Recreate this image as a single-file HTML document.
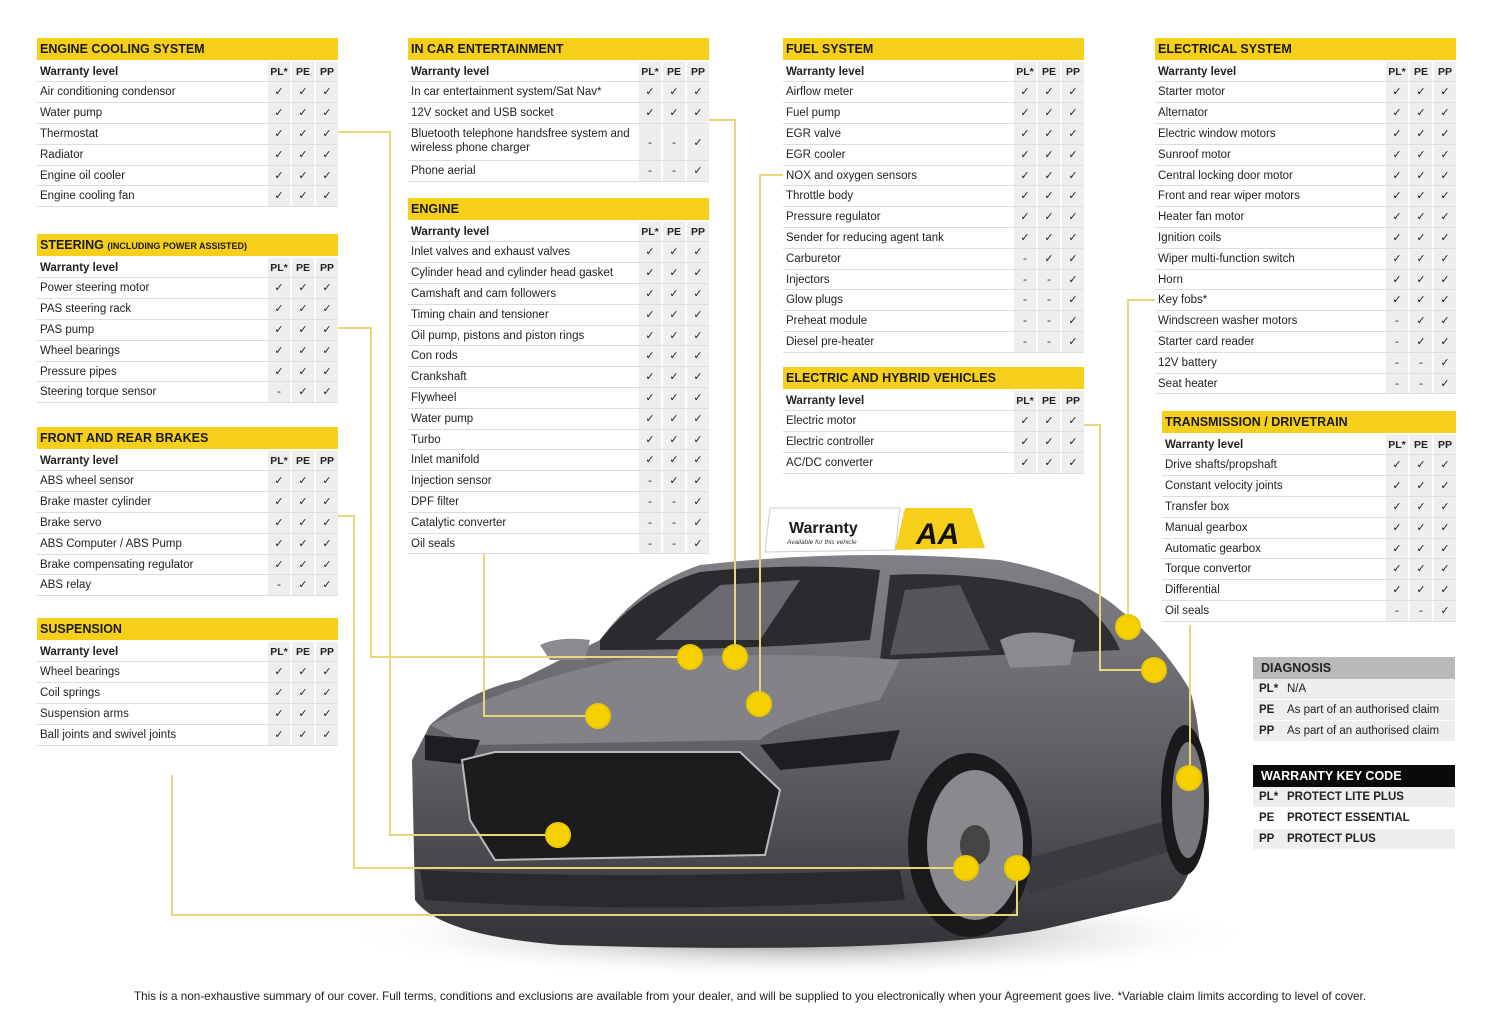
<!DOCTYPE html>
<html><head><meta charset="utf-8">
<style>
*{box-sizing:border-box;margin:0;padding:0}
body{width:1500px;height:1020px;background:#fff;position:relative;overflow:hidden;font-family:"Liberation Sans","DejaVu Sans",sans-serif;color:#222}
.t{position:absolute;width:301px;font-size:11.5px;background:#fff}
.h{background:#f6cf1a;height:22px;font-weight:bold;font-size:12.5px;padding-left:3px;line-height:23px;margin-bottom:1.6px;color:#1a1a1a}
.h small{font-size:9px}
.r{display:flex;height:20.8px;line-height:20px;border-bottom:1px solid #ddd}
.r span{flex:1;padding-left:3px;white-space:nowrap}
.r i{width:22px;margin-left:2px;background:#eee;text-align:center;font-style:normal;font-family:"DejaVu Sans",sans-serif;font-size:11px}
.r.w{font-weight:bold}
.r.w i{font-family:"Liberation Sans",sans-serif;font-size:10.5px}
.r.tall{height:37px;line-height:14px}
.r.tall span{white-space:normal;padding-top:3px}
.r.tall i{line-height:37px}
.k{position:absolute;left:1253px;width:202px;font-size:11.5px}
.k .kh{height:22px;line-height:23px;font-weight:bold;font-size:12.5px;padding-left:8px}
.k .kr{height:21px;line-height:21px;background:#eee;margin-top:0;border-bottom:1px solid #fff;display:flex}
.k .kr b{width:34px;padding-left:6px}
svg{position:absolute;left:0;top:0}
.foot{position:absolute;top:990px;left:0;width:1500px;text-align:center;font-size:11.7px;color:#222}
</style></head><body>

<svg width="1500" height="1020">
<defs>
<radialGradient id="sh" cx="50%" cy="50%" r="50%"><stop offset="0" stop-color="#777"/><stop offset="1" stop-color="#fff" stop-opacity="0"/></radialGradient>
<linearGradient id="bd" x1="0" y1="0" x2="0" y2="1"><stop offset="0" stop-color="#808086"/><stop offset="0.5" stop-color="#606066"/><stop offset="1" stop-color="#343438"/></linearGradient>
</defs>
<ellipse cx="800" cy="935" rx="460" ry="45" fill="url(#sh)"/>
<path d="M412,760 L430,725 Q470,690 520,680 L600,640 Q640,585 700,565 Q850,548 1000,560 Q1080,575 1120,610 Q1160,640 1190,690 Q1205,740 1200,820 Q1195,880 1170,900 L1040,930 Q900,955 560,945 Q440,935 415,900 Z" fill="url(#bd)"/>
<path d="M600,640 Q640,590 700,572 Q800,562 880,570 L870,640 Q750,650 600,650 Z" fill="#2a2a2f"/>
<path d="M655,640 L720,585 L800,580 L760,640 Z" fill="#6a6a70"/>
<path d="M890,575 Q1000,570 1080,600 Q1110,625 1120,650 L1000,655 L880,660 Z" fill="#2e2e33"/>
<path d="M905,590 L960,585 L990,650 L890,655 Z" fill="#55555b"/>
<path d="M430,725 Q520,680 620,660 Q780,650 900,660 L880,700 Q780,720 760,740 L470,745 Z" fill="#828288"/>
<path d="M760,745 L900,730 L890,760 L780,770 Z" fill="#1e1e22"/>
<path d="M425,735 L480,740 L470,765 L425,760 Z" fill="#1e1e22"/>
<path d="M462,760 L495,752 L740,752 L780,790 L765,855 L495,860 L470,820 Z" fill="#1c1c1f" stroke="#bbb" stroke-width="2"/>
<path d="M420,870 Q600,880 900,870 L905,900 Q650,915 425,900 Z" fill="#2a2a2e"/>
<path d="M1020,860 L1170,820 L1175,850 L1030,895 Z" fill="#3c3c40"/>
<path d="M1000,640 Q1030,625 1075,640 L1070,665 L1010,668 Z" fill="#8a8a90"/>
<path d="M540,645 Q560,636 590,640 L585,660 L550,660 Z" fill="#8a8a90"/>
<ellipse cx="970" cy="845" rx="62" ry="92" fill="#1a1a1c"/>
<ellipse cx="975" cy="845" rx="48" ry="75" fill="#8a8a8e"/>
<ellipse cx="975" cy="845" rx="15" ry="20" fill="#444"/>
<ellipse cx="1185" cy="800" rx="24" ry="75" fill="#1a1a1c"/>
<ellipse cx="1188" cy="800" rx="16" ry="58" fill="#77777b"/>
<path d="M770,508 L900,508 L895,550 L765,552 Z" fill="#fff" stroke="#ccc"/>
<path d="M905,508 L972,508 L985,548 L895,550 Z" fill="#f6cf1a"/>
<text x="789" y="533" font-family="Liberation Sans" font-weight="bold" font-size="16" fill="#1a1a1a">Warranty</text>
<text x="787" y="544" font-family="Liberation Sans" font-style="italic" font-size="6.5" fill="#333">Available for this vehicle</text>
<text x="916" y="544" font-family="Liberation Sans" font-weight="bold" font-style="italic" font-size="30" fill="#111">AA</text>
<g fill="none" stroke="#e8d77a" stroke-width="2">
<path d="M338,132 H390 V835 H558"/>
<path d="M338,328 H371 V657 H690"/>
<path d="M338,516 H354 V868 H966"/>
<path d="M172,775 V915 H1017 V868"/>
<path d="M484,553 V716 H598"/>
<path d="M709,120 H735 V657"/>
<path d="M783,175 H760 V704"/>
<path d="M1084,425 H1100 V670 H1154"/>
<path d="M1155,300 H1128 V627"/>
<path d="M1190,625 V778"/>
</g>
<g fill="#f6d000" stroke="#e8c800" stroke-width="2">
<circle cx="690" cy="657" r="12"/><circle cx="735" cy="657" r="12"/><circle cx="598" cy="716" r="12"/><circle cx="759" cy="704" r="12"/><circle cx="558" cy="835" r="12"/><circle cx="966" cy="868" r="12"/><circle cx="1017" cy="868" r="12"/><circle cx="1128" cy="627" r="12"/><circle cx="1154" cy="670" r="12"/><circle cx="1189" cy="778" r="12"/>
</g>
</svg>

<div class="t" style="left:37px;top:38px">
<div class="h">ENGINE COOLING SYSTEM</div>
<div class="r w"><span>Warranty level</span><i>PL*</i><i>PE</i><i>PP</i></div>
<div class="r"><span>Air conditioning condensor</span><i>✓</i><i>✓</i><i>✓</i></div>
<div class="r"><span>Water pump</span><i>✓</i><i>✓</i><i>✓</i></div>
<div class="r"><span>Thermostat</span><i>✓</i><i>✓</i><i>✓</i></div>
<div class="r"><span>Radiator</span><i>✓</i><i>✓</i><i>✓</i></div>
<div class="r"><span>Engine oil cooler</span><i>✓</i><i>✓</i><i>✓</i></div>
<div class="r"><span>Engine cooling fan</span><i>✓</i><i>✓</i><i>✓</i></div>
</div>

<div class="t" style="left:37px;top:234px">
<div class="h">STEERING <small>(INCLUDING POWER ASSISTED)</small></div>
<div class="r w"><span>Warranty level</span><i>PL*</i><i>PE</i><i>PP</i></div>
<div class="r"><span>Power steering motor</span><i>✓</i><i>✓</i><i>✓</i></div>
<div class="r"><span>PAS steering rack</span><i>✓</i><i>✓</i><i>✓</i></div>
<div class="r"><span>PAS pump</span><i>✓</i><i>✓</i><i>✓</i></div>
<div class="r"><span>Wheel bearings</span><i>✓</i><i>✓</i><i>✓</i></div>
<div class="r"><span>Pressure pipes</span><i>✓</i><i>✓</i><i>✓</i></div>
<div class="r"><span>Steering torque sensor</span><i>-</i><i>✓</i><i>✓</i></div>
</div>

<div class="t" style="left:37px;top:427px">
<div class="h">FRONT AND REAR BRAKES</div>
<div class="r w"><span>Warranty level</span><i>PL*</i><i>PE</i><i>PP</i></div>
<div class="r"><span>ABS wheel sensor</span><i>✓</i><i>✓</i><i>✓</i></div>
<div class="r"><span>Brake master cylinder</span><i>✓</i><i>✓</i><i>✓</i></div>
<div class="r"><span>Brake servo</span><i>✓</i><i>✓</i><i>✓</i></div>
<div class="r"><span>ABS Computer / ABS Pump</span><i>✓</i><i>✓</i><i>✓</i></div>
<div class="r"><span>Brake compensating regulator</span><i>✓</i><i>✓</i><i>✓</i></div>
<div class="r"><span>ABS relay</span><i>-</i><i>✓</i><i>✓</i></div>
</div>

<div class="t" style="left:37px;top:618px">
<div class="h">SUSPENSION</div>
<div class="r w"><span>Warranty level</span><i>PL*</i><i>PE</i><i>PP</i></div>
<div class="r"><span>Wheel bearings</span><i>✓</i><i>✓</i><i>✓</i></div>
<div class="r"><span>Coil springs</span><i>✓</i><i>✓</i><i>✓</i></div>
<div class="r"><span>Suspension arms</span><i>✓</i><i>✓</i><i>✓</i></div>
<div class="r"><span>Ball joints and swivel joints</span><i>✓</i><i>✓</i><i>✓</i></div>
</div>

<div class="t" style="left:408px;top:38px">
<div class="h">IN CAR ENTERTAINMENT</div>
<div class="r w"><span>Warranty level</span><i>PL*</i><i>PE</i><i>PP</i></div>
<div class="r"><span>In car entertainment system/Sat Nav*</span><i>✓</i><i>✓</i><i>✓</i></div>
<div class="r"><span>12V socket and USB socket</span><i>✓</i><i>✓</i><i>✓</i></div>
<div class="r tall"><span>Bluetooth telephone handsfree system and wireless phone charger</span><i>-</i><i>-</i><i>✓</i></div>
<div class="r"><span>Phone aerial</span><i>-</i><i>-</i><i>✓</i></div>
</div>

<div class="t" style="left:408px;top:198px">
<div class="h">ENGINE</div>
<div class="r w"><span>Warranty level</span><i>PL*</i><i>PE</i><i>PP</i></div>
<div class="r"><span>Inlet valves and exhaust valves</span><i>✓</i><i>✓</i><i>✓</i></div>
<div class="r"><span>Cylinder head and cylinder head gasket</span><i>✓</i><i>✓</i><i>✓</i></div>
<div class="r"><span>Camshaft and cam followers</span><i>✓</i><i>✓</i><i>✓</i></div>
<div class="r"><span>Timing chain and tensioner</span><i>✓</i><i>✓</i><i>✓</i></div>
<div class="r"><span>Oil pump, pistons and piston rings</span><i>✓</i><i>✓</i><i>✓</i></div>
<div class="r"><span>Con rods</span><i>✓</i><i>✓</i><i>✓</i></div>
<div class="r"><span>Crankshaft</span><i>✓</i><i>✓</i><i>✓</i></div>
<div class="r"><span>Flywheel</span><i>✓</i><i>✓</i><i>✓</i></div>
<div class="r"><span>Water pump</span><i>✓</i><i>✓</i><i>✓</i></div>
<div class="r"><span>Turbo</span><i>✓</i><i>✓</i><i>✓</i></div>
<div class="r"><span>Inlet manifold</span><i>✓</i><i>✓</i><i>✓</i></div>
<div class="r"><span>Injection sensor</span><i>-</i><i>✓</i><i>✓</i></div>
<div class="r"><span>DPF filter</span><i>-</i><i>-</i><i>✓</i></div>
<div class="r"><span>Catalytic converter</span><i>-</i><i>-</i><i>✓</i></div>
<div class="r"><span>Oil seals</span><i>-</i><i>-</i><i>✓</i></div>
</div>

<div class="t" style="left:783px;top:38px">
<div class="h">FUEL SYSTEM</div>
<div class="r w"><span>Warranty level</span><i>PL*</i><i>PE</i><i>PP</i></div>
<div class="r"><span>Airflow meter</span><i>✓</i><i>✓</i><i>✓</i></div>
<div class="r"><span>Fuel pump</span><i>✓</i><i>✓</i><i>✓</i></div>
<div class="r"><span>EGR valve</span><i>✓</i><i>✓</i><i>✓</i></div>
<div class="r"><span>EGR cooler</span><i>✓</i><i>✓</i><i>✓</i></div>
<div class="r"><span>NOX and oxygen sensors</span><i>✓</i><i>✓</i><i>✓</i></div>
<div class="r"><span>Throttle body</span><i>✓</i><i>✓</i><i>✓</i></div>
<div class="r"><span>Pressure regulator</span><i>✓</i><i>✓</i><i>✓</i></div>
<div class="r"><span>Sender for reducing agent tank</span><i>✓</i><i>✓</i><i>✓</i></div>
<div class="r"><span>Carburetor</span><i>-</i><i>✓</i><i>✓</i></div>
<div class="r"><span>Injectors</span><i>-</i><i>-</i><i>✓</i></div>
<div class="r"><span>Glow plugs</span><i>-</i><i>-</i><i>✓</i></div>
<div class="r"><span>Preheat module</span><i>-</i><i>-</i><i>✓</i></div>
<div class="r"><span>Diesel pre-heater</span><i>-</i><i>-</i><i>✓</i></div>
</div>

<div class="t" style="left:783px;top:367px">
<div class="h">ELECTRIC AND HYBRID VEHICLES</div>
<div class="r w"><span>Warranty level</span><i>PL*</i><i>PE</i><i>PP</i></div>
<div class="r"><span>Electric motor</span><i>✓</i><i>✓</i><i>✓</i></div>
<div class="r"><span>Electric controller</span><i>✓</i><i>✓</i><i>✓</i></div>
<div class="r"><span>AC/DC converter</span><i>✓</i><i>✓</i><i>✓</i></div>
</div>

<div class="t" style="left:1155px;top:38px">
<div class="h">ELECTRICAL SYSTEM</div>
<div class="r w"><span>Warranty level</span><i>PL*</i><i>PE</i><i>PP</i></div>
<div class="r"><span>Starter motor</span><i>✓</i><i>✓</i><i>✓</i></div>
<div class="r"><span>Alternator</span><i>✓</i><i>✓</i><i>✓</i></div>
<div class="r"><span>Electric window motors</span><i>✓</i><i>✓</i><i>✓</i></div>
<div class="r"><span>Sunroof motor</span><i>✓</i><i>✓</i><i>✓</i></div>
<div class="r"><span>Central locking door motor</span><i>✓</i><i>✓</i><i>✓</i></div>
<div class="r"><span>Front and rear wiper motors</span><i>✓</i><i>✓</i><i>✓</i></div>
<div class="r"><span>Heater fan motor</span><i>✓</i><i>✓</i><i>✓</i></div>
<div class="r"><span>Ignition coils</span><i>✓</i><i>✓</i><i>✓</i></div>
<div class="r"><span>Wiper multi-function switch</span><i>✓</i><i>✓</i><i>✓</i></div>
<div class="r"><span>Horn</span><i>✓</i><i>✓</i><i>✓</i></div>
<div class="r"><span>Key fobs*</span><i>✓</i><i>✓</i><i>✓</i></div>
<div class="r"><span>Windscreen washer motors</span><i>-</i><i>✓</i><i>✓</i></div>
<div class="r"><span>Starter card reader</span><i>-</i><i>✓</i><i>✓</i></div>
<div class="r"><span>12V battery</span><i>-</i><i>-</i><i>✓</i></div>
<div class="r"><span>Seat heater</span><i>-</i><i>-</i><i>✓</i></div>
</div>

<div class="t" style="left:1162px;top:411px;width:294px">
<div class="h">TRANSMISSION / DRIVETRAIN</div>
<div class="r w"><span>Warranty level</span><i>PL*</i><i>PE</i><i>PP</i></div>
<div class="r"><span>Drive shafts/propshaft</span><i>✓</i><i>✓</i><i>✓</i></div>
<div class="r"><span>Constant velocity joints</span><i>✓</i><i>✓</i><i>✓</i></div>
<div class="r"><span>Transfer box</span><i>✓</i><i>✓</i><i>✓</i></div>
<div class="r"><span>Manual gearbox</span><i>✓</i><i>✓</i><i>✓</i></div>
<div class="r"><span>Automatic gearbox</span><i>✓</i><i>✓</i><i>✓</i></div>
<div class="r"><span>Torque convertor</span><i>✓</i><i>✓</i><i>✓</i></div>
<div class="r"><span>Differential</span><i>✓</i><i>✓</i><i>✓</i></div>
<div class="r"><span>Oil seals</span><i>-</i><i>-</i><i>✓</i></div>
</div>

<div class="k" style="top:657px">
<div class="kh" style="background:#b9b9bb;color:#222">DIAGNOSIS</div>
<div class="kr"><b>PL*</b>N/A</div>
<div class="kr"><b>PE</b>As part of an authorised claim</div>
<div class="kr"><b>PP</b>As part of an authorised claim</div>
</div>

<div class="k" style="top:765px">
<div class="kh" style="background:#0a0a0a;color:#fff">WARRANTY KEY CODE</div>
<div class="kr" style="font-weight:bold"><b>PL*</b>PROTECT LITE PLUS</div>
<div class="kr" style="font-weight:bold;background:#fff"><b>PE</b>PROTECT ESSENTIAL</div>
<div class="kr" style="font-weight:bold"><b>PP</b>PROTECT PLUS</div>
</div>

<div class="foot">This is a non-exhaustive summary of our cover. Full terms, conditions and exclusions are available from your dealer, and will be supplied to you electronically when your Agreement goes live. *Variable claim limits according to level of cover.</div>
</body></html>
